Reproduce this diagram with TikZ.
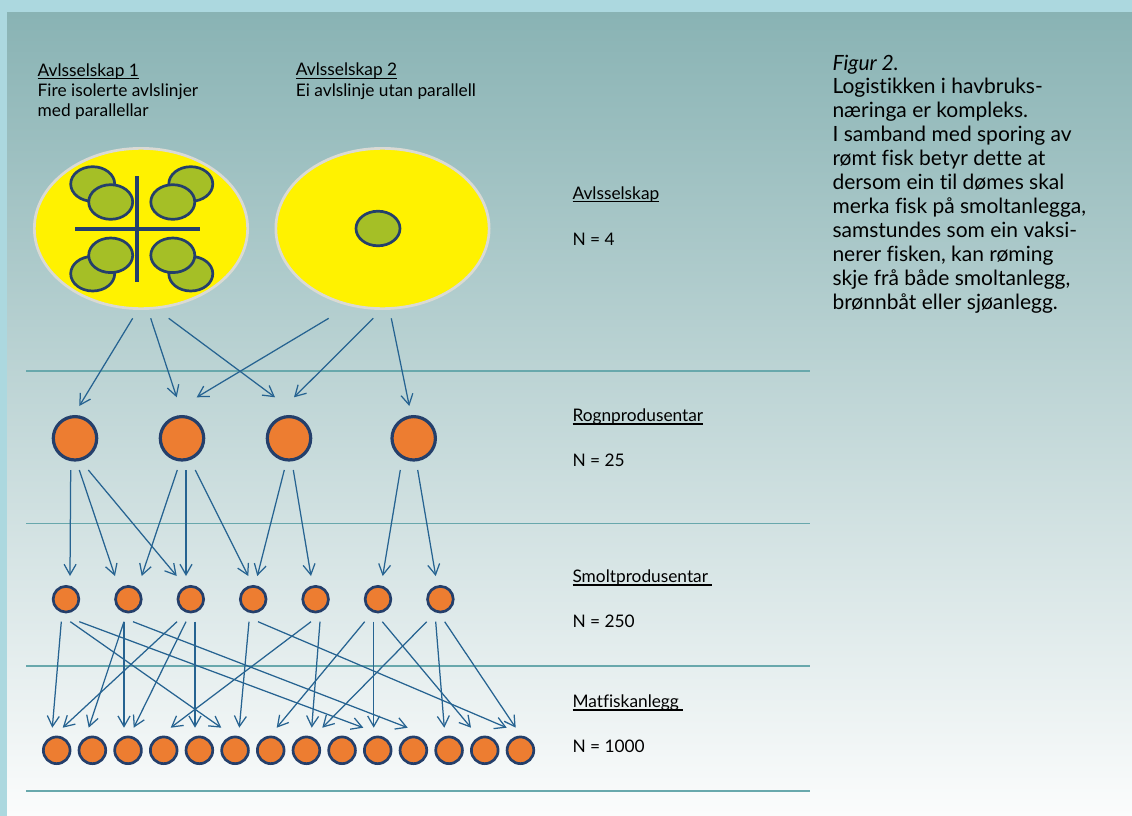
\documentclass[tikz,border=0pt]{standalone}
\usepackage{fontspec}
\setmainfont{Lato}[Ligatures=NoCommon]
\usetikzlibrary{arrows.meta,shapes.geometric}
\definecolor{outerbg}{RGB}{172,216,223}
\definecolor{paneltop}{RGB}{137,179,180}
\definecolor{panelbot}{RGB}{251,252,252}
\definecolor{sepline}{RGB}{104,168,172}
\definecolor{arrowc}{RGB}{38,99,145}
\definecolor{navy}{RGB}{36,63,107}
\definecolor{fishorange}{RGB}{237,125,49}
\definecolor{fishgreen}{RGB}{165,191,38}
\definecolor{ellborder}{RGB}{218,218,212}
\newcommand\myul[1]{\sbox0{#1}\rlap{\rule[-2.8pt]{\wd0}{1.2pt}}\usebox0}
\begin{document}
\begin{tikzpicture}[x=1pt,y=-1pt,
  lbl/.style={anchor=base west, inner sep=0pt, align=left, font=\fontsize{17.3}{20.3}\selectfont, text=black},
  capt/.style={anchor=base west, inner sep=0pt, align=left, font=\fontsize{21}{23.9}\selectfont, text=black},
  sep/.style={draw=sepline, line width=1.6pt},
  arr/.style={draw=arrowc, line width=1.25pt, -{Straight Barb[length=10.5pt,width=12pt]}},
  bigc/.style={circle, draw=navy, fill=fishorange, line width=3.2pt, minimum size=43.4pt, inner sep=0pt},
  midc/.style={circle, draw=navy, fill=fishorange, line width=2.7pt, minimum size=25.7pt, inner sep=0pt},
  smallc/.style={circle, draw=navy, fill=fishorange, line width=2.7pt, minimum size=26.7pt, inner sep=0pt},
  egg/.style={ellipse, draw=navy, fill=fishgreen, line width=2.7pt, minimum width=44pt, minimum height=34.6pt, inner sep=0pt},
  pond/.style={ellipse, draw=ellborder, fill=yellow, line width=2.7pt, minimum width=213.3pt, minimum height=160.3pt, inner sep=0pt},
  crossl/.style={draw=navy, line width=3.3pt},
]
\useasboundingbox (0,0) rectangle (1132,816);
% background
\fill[outerbg] (0,0) rectangle (1132,816);
\shade[top color=paneltop, bottom color=panelbot] (7,13) rectangle (1132,816);

% separator lines
\foreach \yy in {371,523.3,665.7,790.7} {
  \draw[sep] (26,\yy) -- (810,\yy);
}

% level 1: breeding companies
\node[pond] (pond1) at (141,228.5) {};
\node[pond] (pond2) at (382.5,228.5) {};
\node[egg] (e1b) at (92.7,184) {};
\node[egg] (e2b) at (190.8,184) {};
\node[egg] (e3b) at (92.7,273.7) {};
\node[egg] (e4b) at (190.8,273.7) {};
\node[egg] (e1f) at (110.7,202) {};
\node[egg] (e2f) at (172.8,202) {};
\node[egg] (e3f) at (110.7,255.3) {};
\node[egg] (e4f) at (172.8,255.3) {};
\node[egg] (esingle) at (378,228.5) {};
\coordinate (hl) at (75,229);
\coordinate (hr) at (200,229);
\coordinate (vt) at (137,176);
\coordinate (vb) at (137,282);
\draw[crossl] (hl) -- (hr);
\draw[crossl] (vt) -- (vb);

% level 2
\foreach \xx [count=\i] in {75,182,289,413.7} {
  \node[bigc] (r\i) at (\xx,438.3) {};
}
% level 3
\foreach \i in {1,...,7} {
  \node[midc] (s\i) at ({66+62.4*(\i-1)},599.2) {};
}
% level 4
\foreach \i in {1,...,14} {
  \node[smallc] (m\i) at ({56.7+35.67*(\i-1)},750.3) {};
}

% arrows level 1 -> 2
\foreach \sx/\ex/\ey [count=\i] in {132.7/79.3/406, 150.7/176.7/397.3, 168.7/275/397.3, 328.7/196.7/397.3, 373.3/294/397.3, 391.3/409.3/406} {
  \coordinate (ua\i) at (\sx,318.3);
  \coordinate (va\i) at (\ex,\ey);
  \draw[arr] (ua\i) -- (va\i);
}
% arrows level 2 -> 3
\foreach \sx/\ex [count=\i] in {70.7/70, 79.3/115, 88.3/176.7, 177.3/141.7, 186/186, 195.3/248.3, 284.3/257.3, 293.3/311, 400.3/382.7, 417.7/435.7} {
  \coordinate (ub\i) at (\sx,470);
  \coordinate (vb\i) at (\ex,576);
  \draw[arr] (ub\i) -- (vb\i);
}
% arrows level 3 -> 4
\foreach \sx/\ex [count=\i] in {61.3/52.3, 70.3/221.3, 79.3/363.3, 124/88.7, 124/124, 133/407.7, 177/62.7, 186/133.7, 195/195, 249/239.3, 258/506.7, 311/170.7, 320/311.7, 364.7/276.7, 373.7/373.7, 382.3/471, 426.7/322.3, 435.7/444.3, 444.7/515.7} {
  \coordinate (uc\i) at (\sx,621.7);
  \coordinate (vc\i) at (\ex,727.7);
  \draw[arr] (uc\i) -- (vc\i);
}

% top labels (anchored at the baseline of their last line)
\node[lbl] (lab1) at (37.5,116.6) {\myul{Avlsselskap 1}\\Fire isolerte avlslinjer\\med parallellar};
\node[lbl] (lab2) at (295.7,96.3) {\myul{Avlsselskap 2}\\Ei avlslinje utan parallell};

% level labels
\node[lbl] (t1) at (572.3,199.3) {\myul{Avlsselskap}};
\node[lbl] (n1) at (572.3,245) {N = 4};
\node[lbl] (t2) at (572.3,421.7) {\myul{Rognprodusentar}};
\node[lbl] (n2) at (572.3,466.7) {N = 25};
\node[lbl] (t3) at (572.3,582.7) {\myul{Smoltprodusentar\ }};
\node[lbl] (n3) at (572.3,627.7) {N = 250};
\node[lbl] (t4) at (572.3,707.7) {\myul{Matfiskanlegg\ }};
\node[lbl] (n4) at (572.3,752) {N = 1000};

% caption (anchored at the baseline of its last line)
\node[capt] (caption) at (832.3,309) {\textit{Figur 2.}\\
Logistikken i havbruks-\\
næringa er kompleks.\\
I samband med sporing av\\
rømt fisk betyr dette at\\
dersom ein til dømes skal\\
merka fisk på smoltanlegga,\\
samstundes som ein vaksi-\\
nerer fisken, kan røming\\
skje frå både smoltanlegg,\\
brønnbåt eller sjøanlegg.};
\end{tikzpicture}
\end{document}
